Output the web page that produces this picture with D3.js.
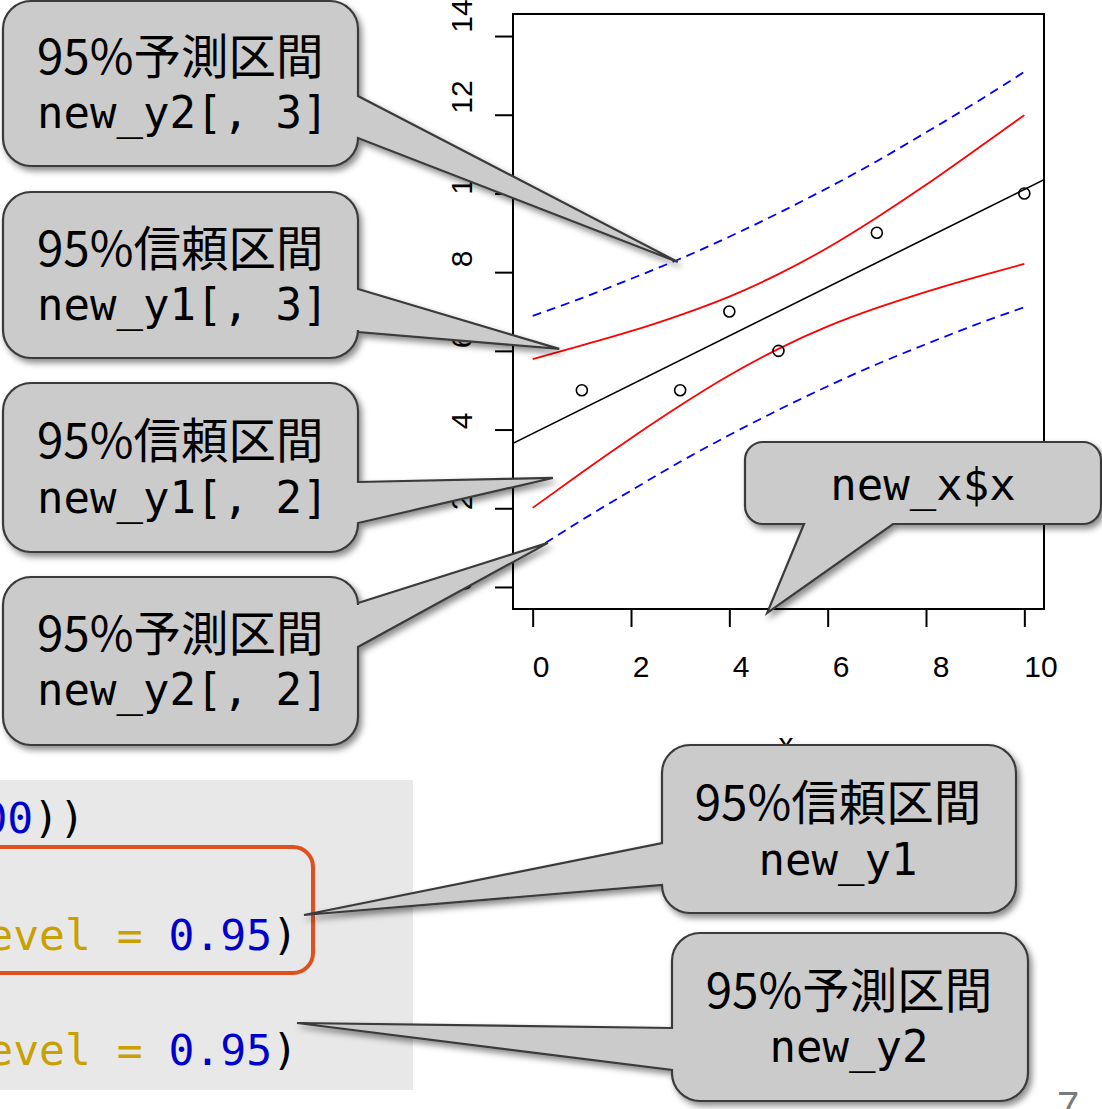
<!DOCTYPE html>
<html>
<head>
<meta charset="utf-8">
<script src="https://cdn.jsdelivr.net/npm/d3@7"></script>
<style>
  body { margin: 0; background: #fff; }
  svg { display: block; }
</style>
</head>
<body>
<script>
// observed points
const obsX = [1, 3, 4, 5, 7, 10];
const obsY = [5, 5, 7, 6, 9, 10];

// fitted line (abline), read at the box edges
const fitX = [-0.4, 10.4];
const fitY = [3.65, 10.35];

// new_x$x and the interval bounds
const newX    = [0, 1, 2, 3, 4, 5, 6, 7, 8, 9, 10];
const confLwr = [2.01, 2.91, 3.78, 4.61, 5.38, 6.05, 6.62, 7.09, 7.50, 7.87, 8.21];
const confUpr = [5.79, 6.14, 6.50, 6.91, 7.38, 7.95, 8.62, 9.39, 10.22, 11.10, 11.99];
const predLwr = [0.91, 1.70, 2.45, 3.18, 3.86, 4.50, 5.10, 5.66, 6.17, 6.66, 7.11];
const predUpr = [6.89, 7.34, 7.83, 8.34, 8.90, 9.50, 10.14, 10.82, 11.55, 12.30, 13.09];

const xTicks = [0, 2, 4, 6, 8, 10];
const yTicks = [0, 2, 4, 6, 8, 10, 12, 14];

const W = 1102, H = 1109;
const svg = d3.select("body").append("svg")
  .attr("width", W)
  .attr("height", H);

const defs = svg.append("defs");
defs.append("filter")
  .attr("id", "shadow")
  .attr("x", "-10%").attr("y", "-10%")
  .attr("width", "130%").attr("height", "140%")
  .append("feDropShadow")
    .attr("dx", 3).attr("dy", 4)
    .attr("stdDeviation", 3)
    .attr("flood-color", "#000")
    .attr("flood-opacity", 0.45);

let x = d3.scaleLinear().domain([-0.4, 10.4]).range([513, 1044]);
let y = d3.scaleLinear().domain([-0.56, 14.56]).range([609, 14]);
// tick labels sit on a slightly wider grid than the ticks in the picture
let xLab = d3.scaleLinear().domain([0, 10]).range([541, 1041]);
let yLab = d3.scaleLinear().domain([0, 14]).range([583, 16]);

defs.append("clipPath").attr("id", "plotclip")
  .append("rect")
    .attr("x", x.range()[0]).attr("y", y.range()[1])
    .attr("width", x.range()[1] - x.range()[0])
    .attr("height", y.range()[0] - y.range()[1]);

// ---- plot ----
let plot = svg.append("g");
const axisFont = "'Liberation Sans', Arial, sans-serif";

let gx = plot.append("g")
  .attr("transform", "translate(0," + y.range()[0] + ")")
  .call(d3.axisBottom(x).tickValues(xTicks).tickSize(18).tickFormat(""));
gx.select(".domain").remove();
gx.selectAll("line").attr("stroke", "#000").attr("stroke-width", 2);

let gy = plot.append("g")
  .attr("transform", "translate(" + x.range()[0] + ",0)")
  .call(d3.axisLeft(y).tickValues(yTicks).tickSize(18).tickFormat(""));
gy.select(".domain").remove();
gy.selectAll("line").attr("stroke", "#000").attr("stroke-width", 2);

plot.selectAll(".xlab")
  .data(xTicks)
  .enter().append("text")
    .attr("class", "xlab")
    .attr("x", d => xLab(d))
    .attr("y", 677)
    .attr("text-anchor", "middle")
    .attr("font-family", axisFont)
    .attr("font-size", 30)
    .text(d => d);

plot.selectAll(".ylab")
  .data(yTicks)
  .enter().append("text")
    .attr("class", "ylab")
    .attr("transform", d => "translate(472," + yLab(d) + ") rotate(-90)")
    .attr("text-anchor", "middle")
    .attr("font-family", axisFont)
    .attr("font-size", 30)
    .text(d => d);

plot.append("text")
  .attr("x", 786).attr("y", 754)
  .attr("text-anchor", "middle")
  .attr("font-family", axisFont)
  .attr("font-size", 30)
  .text("x");

let inner = plot.append("g").attr("clip-path", "url(#plotclip)");

let line = d3.line()
  .x(d => x(d[0]))
  .y(d => y(d[1]))
  .curve(d3.curveNatural);

const bands = [
  { vals: predUpr, color: "#0000ff", dash: "9,6" },
  { vals: predLwr, color: "#0000ff", dash: "9,6" },
  { vals: confUpr, color: "#ff0000", dash: null },
  { vals: confLwr, color: "#ff0000", dash: null },
];

inner.selectAll(".band")
  .data(bands)
  .enter().append("path")
    .attr("class", "band")
    .attr("fill", "none")
    .attr("stroke", d => d.color)
    .attr("stroke-width", 1.8)
    .attr("stroke-dasharray", d => d.dash)
    .attr("d", d => line(d3.zip(newX, d.vals)));

inner.append("path")
  .attr("fill", "none")
  .attr("stroke", "#000")
  .attr("stroke-width", 1.6)
  .attr("d", d3.line().x(d => x(d[0])).y(d => y(d[1]))(d3.zip(fitX, fitY)));

inner.selectAll(".pt")
  .data(d3.zip(obsX, obsY))
  .enter().append("circle")
    .attr("class", "pt")
    .attr("cx", d => x(d[0]))
    .attr("cy", d => y(d[1]))
    .attr("r", 5.5)
    .attr("fill", "none")
    .attr("stroke", "#000")
    .attr("stroke-width", 1.6);

plot.append("rect")
  .attr("x", x.range()[0]).attr("y", y.range()[1])
  .attr("width", x.range()[1] - x.range()[0])
  .attr("height", y.range()[0] - y.range()[1])
  .attr("fill", "none")
  .attr("stroke", "#000")
  .attr("stroke-width", 2);

// ---- callouts ----
const calloutPath = (c) => {
  let { bx, by, w, h, r, side, a, b, tip } = c;
  let [tx, ty] = tip;
  let p = `M${bx + r},${by}H${bx + w - r}A${r},${r} 0 0 1 ${bx + w},${by + r}`;
  if (side == "right") p += `V${by + a}L${tx},${ty}L${bx + w},${by + b}`;
  p += `V${by + h - r}A${r},${r} 0 0 1 ${bx + w - r},${by + h}`;
  if (side == "bottom") p += `H${bx + b}L${tx},${ty}L${bx + a},${by + h}`;
  p += `H${bx + r}A${r},${r} 0 0 1 ${bx},${by + h - r}`;
  if (side == "left") p += `V${by + b}L${tx},${ty}L${bx},${by + a}`;
  p += `V${by + r}A${r},${r} 0 0 1 ${bx + r},${by}Z`;
  return p;
};

const jpFont = "'Noto Sans CJK JP', sans-serif";
const monoFont = "'DejaVu Sans Mono', monospace";

const drawCallout = (g, c) => {
  g.append("path")
    .attr("d", calloutPath(c))
    .attr("fill", "#cbcbcb")
    .attr("stroke", "#3a3a3a")
    .attr("stroke-width", 2.2)
    .attr("stroke-linejoin", "miter")
    .attr("filter", "url(#shadow)");
  c.lines.forEach((t, i) => {
    g.append("text")
      .attr("x", c.tx)
      .attr("y", c.ty[i])
      .attr("text-anchor", c.anchor)
      .attr("font-family", t.mono ? monoFont : jpFont)
      .attr("font-size", t.mono ? 44 : 47.5)
      .attr("fill", "#000")
      .text(t.s);
  });
};

let leftCallouts = [
  { bx: 3, by: 1, w: 355, h: 165, r: 28, side: "right", a: 95, b: 137,
    tip: [x(2.95), y(8.26)], tx: 37, ty: [74, 128], anchor: "start",
    lines: [{ s: "95%予測区間" }, { s: "new_y2[, 3]", mono: true }] },
  { bx: 3, by: 192, w: 355, h: 166, r: 28, side: "right", a: 97, b: 140,
    tip: [x(0.54), y(6.05)], tx: 37, ty: [266, 320], anchor: "start",
    lines: [{ s: "95%信頼区間" }, { s: "new_y1[, 3]", mono: true }] },
  { bx: 3, by: 383, w: 355, h: 169, r: 28, side: "right", a: 99, b: 140,
    tip: [x(0.41), y(2.77)], tx: 37, ty: [458, 513], anchor: "start",
    lines: [{ s: "95%信頼区間" }, { s: "new_y1[, 2]", mono: true }] },
  { bx: 3, by: 577, w: 355, h: 168, r: 28, side: "right", a: 26, b: 70,
    tip: [x(0.31), y(1.12)], tx: 37, ty: [651, 705], anchor: "start",
    lines: [{ s: "95%予測区間" }, { s: "new_y2[, 2]", mono: true }] },
  { bx: 745, by: 442, w: 356, h: 82, r: 18, side: "bottom", a: 59, b: 148,
    tip: [x(4.77), y(-0.66)], tx: 923, ty: [500], anchor: "middle",
    lines: [{ s: "new_x$x", mono: true }] },
];

let gCall = svg.append("g");
leftCallouts.forEach(c => drawCallout(gCall, c));

// ---- code snippet ----
let code = svg.append("g");
code.append("rect")
  .attr("x", 0).attr("y", 780)
  .attr("width", 413).attr("height", 310)
  .attr("fill", "#e8e8e8");

const codeLines = [
  { y: 833, end: 85, parts: [["100", "#0000cc"], ["))", "#000"]] },
  { y: 950, end: 298, parts: [["evel = ", "#c8a000"], ["0.95", "#0000cc"], [")", "#000"]] },
  { y: 1065, end: 298, parts: [["evel = ", "#c8a000"], ["0.95", "#0000cc"], [")", "#000"]] },
];
codeLines.forEach(l => {
  let t = code.append("text")
    .attr("x", l.end).attr("y", l.y)
    .attr("text-anchor", "end")
    .attr("font-family", monoFont)
    .attr("font-size", 43)
    .attr("xml:space", "preserve")
    .style("white-space", "pre");
  l.parts.forEach(p => t.append("tspan").attr("fill", p[1]).text(p[0]));
});

code.append("rect")
  .attr("x", -30).attr("y", 847)
  .attr("width", 343).attr("height", 126)
  .attr("rx", 20)
  .attr("fill", "none")
  .attr("stroke", "#e0501e")
  .attr("stroke-width", 4);

// callouts pointing into the code sit above it
let rightCallouts = [
  { bx: 662, by: 745, w: 354, h: 168, r: 28, side: "left", a: 98, b: 140,
    tip: [304, 915], tx: 838, ty: [820, 875], anchor: "middle",
    lines: [{ s: "95%信頼区間" }, { s: "new_y1", mono: true }] },
  { bx: 672, by: 933, w: 356, h: 168, r: 28, side: "left", a: 95, b: 137,
    tip: [297, 1023], tx: 849, ty: [1008, 1062], anchor: "middle",
    lines: [{ s: "95%予測区間" }, { s: "new_y2", mono: true }] },
];
let gCall2 = svg.append("g");
rightCallouts.forEach(c => drawCallout(gCall2, c));

// page number, cut at the bottom edge
svg.append("text")
  .attr("x", 1068).attr("y", 1120)
  .attr("text-anchor", "middle")
  .attr("font-family", axisFont)
  .attr("font-size", 40)
  .attr("fill", "#7a7a7a")
  .text("7");
</script>
</body>
</html>
